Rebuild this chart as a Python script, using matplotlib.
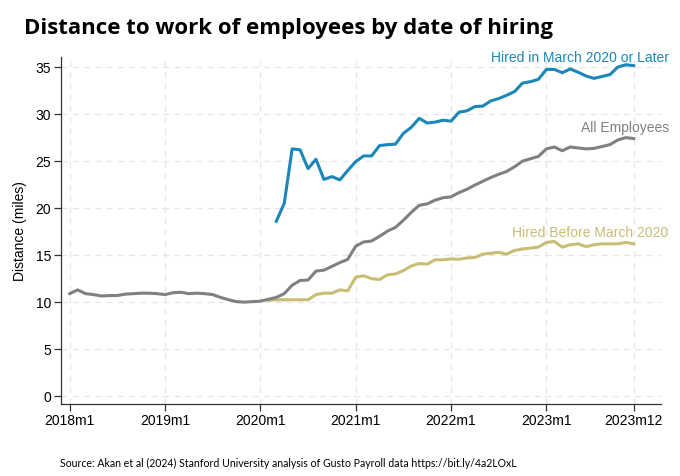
#!/usr/bin/env python3
"""Distance to work of employees by date of hiring (Gusto payroll data)."""

import matplotlib
matplotlib.use("Agg")
import matplotlib.pyplot as plt
import numpy as np

# monthly index: 0 = 2018m1 ... 71 = 2023m12
months = np.arange(72)

all_employees = [
    10.9, 11.3, 10.9, 10.8, 10.65, 10.7, 10.7, 10.85, 10.9, 10.95, 10.95, 10.9,
    10.8, 11.0, 11.05, 10.9, 10.95, 10.9, 10.8, 10.5, 10.25, 10.05, 10.0, 10.05,
    10.1, 10.3, 10.5, 10.9, 11.8, 12.3, 12.35, 13.3, 13.4, 13.8, 14.2, 14.55,
    15.95, 16.4, 16.5, 17.0, 17.55, 17.95, 18.7, 19.55, 20.3, 20.45, 20.85, 21.1,
    21.2, 21.65, 22.0, 22.45, 22.85, 23.25, 23.6, 23.9, 24.4, 25.0, 25.25, 25.5,
    26.3, 26.5, 26.1, 26.5, 26.4, 26.3, 26.35, 26.55, 26.75, 27.25, 27.5, 27.4,
]

# starts 2020m2
before_start = 25
hired_before = [
    10.2, 10.25, 10.25, 10.25, 10.25, 10.25, 10.8, 10.95, 10.95, 11.3, 11.2,
    12.65, 12.8, 12.5, 12.4, 12.9, 13.0, 13.35, 13.85, 14.1, 14.05, 14.5, 14.5,
    14.6, 14.55, 14.7, 14.75, 15.1, 15.2, 15.3, 15.1, 15.5, 15.65, 15.75, 15.85,
    16.35, 16.45, 15.85, 16.1, 16.2, 15.9, 16.1, 16.2, 16.2, 16.2, 16.35, 16.2,
]

# starts 2020m3
after_start = 26
hired_after = [
    18.6, 20.5, 26.3, 26.2, 24.2, 25.2, 23.05, 23.35, 23.0, 24.0,
    24.95, 25.55, 25.55, 26.65, 26.75, 26.8, 27.95, 28.6, 29.55, 29.05, 29.15, 29.35,
    29.25, 30.2, 30.35, 30.8, 30.85, 31.4, 31.65, 32.0, 32.4, 33.3, 33.45, 33.7,
    34.75, 34.75, 34.4, 34.8, 34.45, 34.05, 33.8, 34.0, 34.2, 35.0, 35.25, 35.15,
]

xtick_pos = [0, 12, 24, 36, 48, 60, 71]
xtick_labels = ["2018m1", "2019m1", "2020m1", "2021m1", "2022m1", "2023m1", "2023m12"]
ytick_pos = [0, 5, 10, 15, 20, 25, 30, 35]

BLUE = "#1a87b8"
GRAY = "#808080"
KHAKI = "#c9bd74"

plt.rcParams["font.family"] = ["Liberation Sans", "DejaVu Sans"]

fig = plt.figure(figsize=(6.8, 4.76), dpi=100)
ax = fig.add_axes([0.0897, 0.151, 0.882, 0.729])

x_before = months[before_start:before_start + len(hired_before)]
x_after = months[after_start:after_start + len(hired_after)]

ax.plot(x_before, hired_before, color=KHAKI, lw=2.2, solid_joinstyle="round")
ax.plot(months, all_employees, color=GRAY, lw=2.2, solid_joinstyle="round")
ax.plot(x_after, hired_after, color=BLUE, lw=2.2, solid_joinstyle="round")

ax.set_xlim(-1.1, 74.4)
ax.set_ylim(-0.85, 36.06)
ax.set_xticks(xtick_pos)
ax.set_xticklabels(xtick_labels)
ax.set_yticks(ytick_pos)
ax.tick_params(axis="both", labelsize=10, length=5, width=0.9, color="#333333",
               direction="out", pad=2)

ax.grid(True, color="#e6e6e6", linestyle=(0, (5, 4)), linewidth=0.9)
ax.set_axisbelow(True)
for side in ("top", "right"):
    ax.spines[side].set_visible(False)
for side in ("left", "bottom"):
    ax.spines[side].set_color("#333333")
    ax.spines[side].set_linewidth(0.9)

ax.set_ylabel("Distance (miles)", fontsize=10, labelpad=6)

lab_x = 75.4
ax.text(lab_x, 35.96, "Hired in March 2020 or Later", color=BLUE, fontsize=10,
        ha="right", va="center", clip_on=False)
ax.text(lab_x, 28.5, "All Employees", color=GRAY, fontsize=10,
        ha="right", va="center", clip_on=False)
ax.text(lab_x, 17.3, "Hired Before March 2020", color=KHAKI, fontsize=10,
        ha="right", va="center", clip_on=False)

fig.text(0.036, 0.94, "Distance to work of employees by date of hiring",
         fontsize=16, fontweight="bold", family=["Open Sans", "DejaVu Sans"],
         ha="left", va="center")
fig.text(0.088, 0.027,
         "Source: Akan et al (2024) Stanford University analysis of Gusto Payroll data https://bit.ly/4a2LOxL",
         fontsize=7.6, family=["Lato", "DejaVu Sans"], ha="left", va="center")

fig.savefig("out.png", dpi=100)
